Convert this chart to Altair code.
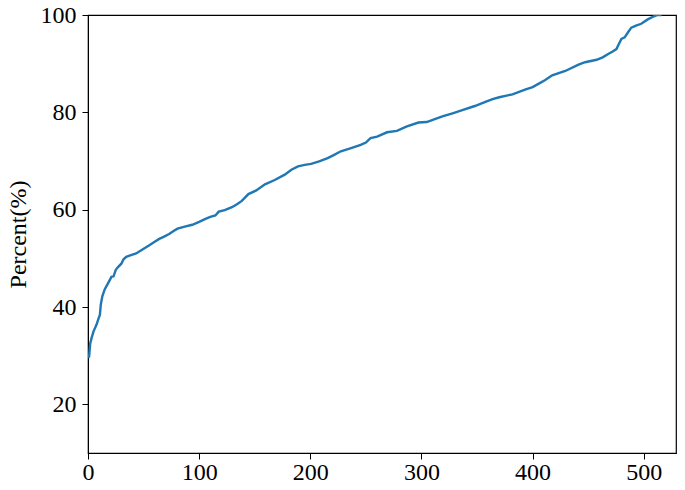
import altair as alt
import pandas as pd

# Sample index (x) and cumulative percent (y)
idx = [0, 1, 2, 3.3, 5, 7.7, 9, 10.7, 11.5, 12.9, 15, 18.1, 21.1, 23, 24.9, 27, 30, 32, 34.4,
       38, 43.3, 49, 55.2, 60, 64.1, 68, 73, 77, 80.5, 87, 93.8, 100, 105.7, 110, 114.6, 117.6,
       123, 129.5, 134, 138.4, 144.3, 151, 159.2, 168, 177, 183, 188.9, 195, 200.7, 208, 215.6,
       221, 227.5, 236, 245.3, 250, 254.2, 260.1, 269, 277.9, 286.9, 297.3, 304.7, 312, 319.5,
       328, 337.4, 348, 358.1, 364, 370, 381.9, 393.8, 400, 405.6, 411, 417.6, 429.4, 441.3,
       447.2, 457.6, 463, 468, 472, 475.4, 477.5, 479.9, 482.8, 486, 488.8, 493, 497.7, 503.6,
       508, 512.5, 516]
pct = [29.6, 29.8, 32.5, 33.7, 35.0, 36.4, 37.3, 38.4, 40.5, 42.2, 43.6, 44.9, 46.2, 46.3, 47.6,
       48.2, 48.9, 49.8, 50.3, 50.6, 51.0, 51.8, 52.7, 53.4, 54.0, 54.4, 55.0, 55.6, 56.1, 56.5,
       56.9, 57.5, 58.1, 58.5, 58.8, 59.6, 59.9, 60.5, 61.1, 61.8, 63.2, 63.9, 65.2, 66.1, 67.2,
       68.2, 68.9, 69.2, 69.4, 69.9, 70.6, 71.2, 72.0, 72.6, 73.3, 73.8, 74.7, 75.0, 75.9, 76.2,
       77.1, 77.9, 78.0, 78.6, 79.2, 79.8, 80.5, 81.3, 82.2, 82.7, 83.1, 83.7, 84.7, 85.2, 85.9,
       86.6, 87.6, 88.5, 89.8, 90.3, 90.8, 91.3, 92.0, 92.5, 93.0, 94.0, 95.1, 95.4, 96.5, 97.4,
       97.8, 98.2, 99.1, 99.6, 100.0, 100.0]

df = pd.DataFrame({"i": idx, "p": pct})

FONT = "Liberation Serif"

chart = alt.Chart(df).mark_line(color="#1f77b4", strokeWidth=2.4, clip=True).encode(
    x=alt.X("i:Q", scale=alt.Scale(domain=[0, 529], nice=False, zero=False),
            axis=alt.Axis(title=None, values=[0, 100, 200, 300, 400, 500], grid=False,
                          tickSize=6, tickColor="black", domainColor="black",
                          labelFont=FONT, labelFontSize=24, labelColor="black",
                          labelPadding=1, labelFlush=False)),
    y=alt.Y("p:Q", scale=alt.Scale(domain=[10, 100], nice=False, zero=False),
            axis=alt.Axis(title="Percent(%)", values=[20, 40, 60, 80, 100], grid=False,
                          tickSize=6, tickColor="black", domainColor="black",
                          labelFont=FONT, labelFontSize=24, labelColor="black",
                          labelPadding=6, labelFlush=False,
                          titleFont=FONT, titleFontSize=24, titleFontWeight="normal",
                          titleColor="black", titlePadding=10)),
).properties(
    width=588, height=438,
    autosize=alt.AutoSizeParams(type="none"),
    padding={"left": 80, "top": 7, "right": 1, "bottom": 29},
).configure_view(stroke="black", strokeWidth=1.2)

chart.save("out.html", embed_options={"renderer": "svg", "actions": False})
